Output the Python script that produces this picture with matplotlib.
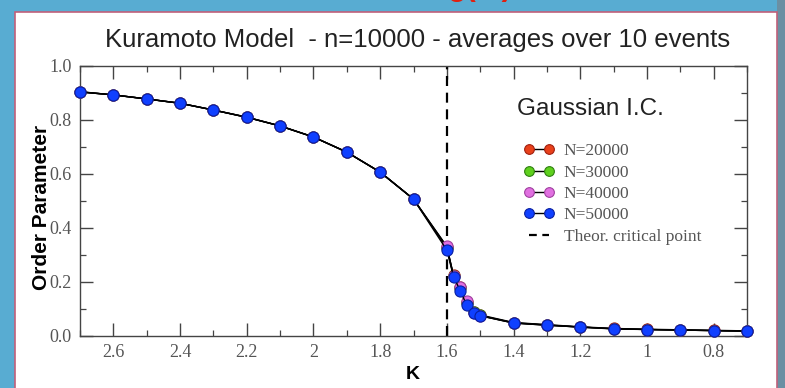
import matplotlib
matplotlib.use('Agg')
import matplotlib.pyplot as plt
from matplotlib.patches import Rectangle
from matplotlib.lines import Line2D
from matplotlib.ticker import MultipleLocator

# coupling constant K and order parameter per system size
k_vals = [2.7, 2.6, 2.5, 2.4, 2.3, 2.2, 2.1, 2.0, 1.9, 1.8, 1.7, 1.6,
          1.58, 1.56, 1.54, 1.52, 1.5, 1.4, 1.3, 1.2, 1.1, 1.0, 0.9, 0.8, 0.7]
r_20000 = [0.905, 0.893, 0.878, 0.862, 0.837, 0.811, 0.778, 0.737, 0.681, 0.607, 0.507, 0.330,
           0.225, 0.180, 0.125, 0.090, 0.078, 0.050, 0.042, 0.034, 0.028, 0.025, 0.023, 0.021, 0.019]
r_30000 = [0.904, 0.893, 0.878, 0.862, 0.837, 0.810, 0.778, 0.737, 0.681, 0.607, 0.507, 0.326,
           0.223, 0.176, 0.122, 0.088, 0.076, 0.049, 0.041, 0.033, 0.027, 0.024, 0.022, 0.020, 0.018]
r_40000 = [0.904, 0.893, 0.878, 0.862, 0.837, 0.810, 0.778, 0.737, 0.681, 0.607, 0.507, 0.332,
           0.222, 0.182, 0.128, 0.087, 0.075, 0.048, 0.040, 0.033, 0.027, 0.024, 0.022, 0.020, 0.018]
r_50000 = [0.904, 0.893, 0.878, 0.862, 0.837, 0.810, 0.778, 0.737, 0.681, 0.607, 0.507, 0.318,
           0.220, 0.168, 0.113, 0.087, 0.075, 0.048, 0.040, 0.033, 0.026, 0.024, 0.022, 0.020, 0.018]
labels = ['N=20000', 'N=30000', 'N=40000', 'N=50000']
colors = ['#e8401a', '#5fd01e', '#e070e0', '#1040ff']
edges = ['#a02010', '#2f8010', '#a040a0', '#0a1fa0']
k_critical = 1.6

xticks = [2.6, 2.4, 2.2, 2.0, 1.8, 1.6, 1.4, 1.2, 1.0, 0.8]
xtick_labels = ['2.6', '2.4', '2.2', '2', '1.8', '1.6', '1.4', '1.2', '1', '0.8']
yticks = [0.0, 0.2, 0.4, 0.6, 0.8, 1.0]
ytick_labels = ['0.0', '0.2', '0.4', '0.6', '0.8', '1.0']

fig = plt.figure(figsize=(7.85, 3.88), dpi=100)
fig.patch.set_facecolor('#58acd2')

# slide background pieces
fig.patches.append(Rectangle((777 / 785, 0), 8 / 785, 1, transform=fig.transFigure,
                             facecolor='#6b8fa3', edgecolor='none', zorder=-2))
fig.patches.append(Rectangle((15 / 785, -0.01), 762 / 785, 1.01 - 12 / 388, transform=fig.transFigure,
                             facecolor='white', edgecolor='#c0607a', linewidth=1.2, zorder=-1))
fig.text(480 / 785, 1 + 5 / 388, 'g(ω)', color='#e02010', fontsize=22, fontweight='bold',
         ha='center', va='baseline', family='Liberation Sans')

ax = fig.add_axes([80 / 785, 52 / 388, 667 / 785, 270 / 388])
ax.set_zorder(2)
ax.set_facecolor('white')

series = [r_20000, r_30000, r_40000, r_50000]
for vals, lab, c, ec in zip(series, labels, colors, edges):
    ax.plot(k_vals, vals, '-o', color='black', lw=1.0, markersize=8, clip_on=False,
            markerfacecolor=c, markeredgecolor=ec, markeredgewidth=0.8, label=lab, zorder=3)

ax.axvline(k_critical, color='black', lw=1.6, dashes=(4.5, 3), zorder=2)

ax.set_xlim(2.7, 0.7)
ax.set_ylim(0.0, 1.0)
ax.set_xticks(xticks)
ax.set_xticklabels(xtick_labels)
ax.set_yticks(yticks)
ax.set_yticklabels(ytick_labels)
ax.xaxis.set_minor_locator(MultipleLocator(0.1))
ax.yaxis.set_minor_locator(MultipleLocator(0.1))
ax.tick_params(which='both', direction='in', top=True, right=True, color='#444444',
               labelcolor='#555555', labelsize=13)
ax.tick_params(which='major', length=9.5, width=1.0, pad=6)
ax.tick_params(which='minor', length=4.5, width=0.9)
for lbl in ax.get_xticklabels() + ax.get_yticklabels():
    lbl.set_family('Liberation Serif')
for sp in ax.spines.values():
    sp.set_color('#444444')
    sp.set_linewidth(1.0)

ax.set_xlabel('K', fontsize=14, fontweight='bold', family='Liberation Sans')
ax.xaxis.set_label_coords(0.499, -0.11)
ax.set_ylabel('Order Parameter', fontsize=15, fontweight='bold', family='Liberation Sans')
ax.yaxis.set_label_coords(-0.044, 0.478)

fig.text(418 / 785, 1 - 40 / 388, 'Kuramoto Model  - n=10000 - averages over 10 events',
         fontsize=18.5, family='Liberation Sans', color='#222222', ha='center', va='center')

ax.text(0.765, 0.841, 'Gaussian I.C.', transform=ax.transAxes, fontsize=17.5,
        family='Liberation Sans', color='#222222', ha='center', va='center')

handles, _ = ax.get_legend_handles_labels()
handles.append(Line2D([], [], color='black', lw=1.6, dashes=(3.5, 2.5)))
leg = ax.legend(handles, labels + ['Theor. critical point'], loc='upper left',
                bbox_to_anchor=(0.655, 0.74), frameon=False, handlelength=1.75,
                handletextpad=0.55, labelspacing=0.3, borderaxespad=0,
                prop={'family': 'Liberation Serif', 'size': 12.5}, numpoints=2)
for t in leg.get_texts():
    t.set_color('#555555')
for h in leg.legend_handles[:4]:
    h.set_markersize(7)

fig.savefig('out.png', dpi=100, facecolor=fig.get_facecolor())
